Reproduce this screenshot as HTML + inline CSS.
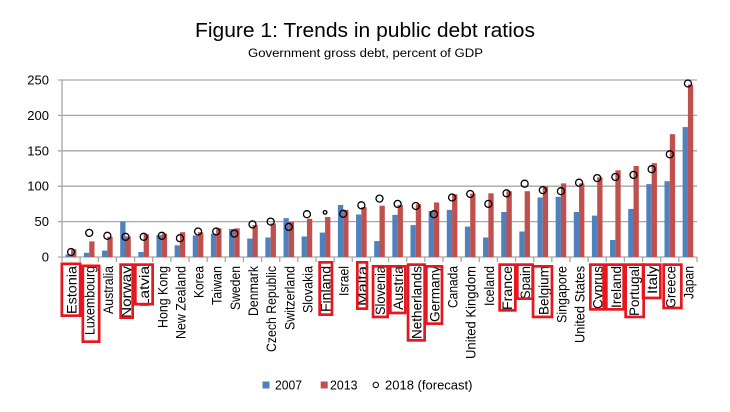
<!DOCTYPE html>
<html><head><meta charset="utf-8"><style>
html,body{margin:0;padding:0;background:#fff;}
svg{display:block;font-family:"Liberation Sans",Arial,sans-serif;}
</style></head><body>
<svg width="730" height="412" viewBox="0 0 730 412" xmlns="http://www.w3.org/2000/svg">
<rect width="730" height="412" fill="#fff"/>
<text x="195" y="37" font-size="20" textLength="340" lengthAdjust="spacingAndGlyphs" fill="#000">Figure 1: Trends in public debt ratios</text>
<text x="248" y="57" font-size="11.5" textLength="235" lengthAdjust="spacingAndGlyphs" fill="#000">Government gross debt, percent of GDP</text>
<g stroke="#a6a6a6" stroke-width="1.3">
<line x1="58" y1="80" x2="697" y2="80"/>
<line x1="58" y1="115.4" x2="697" y2="115.4"/>
<line x1="58" y1="150.8" x2="697" y2="150.8"/>
<line x1="58" y1="186.2" x2="697" y2="186.2"/>
<line x1="58" y1="221.6" x2="697" y2="221.6"/>
<line x1="58" y1="257" x2="697" y2="257"/>
<line x1="62" y1="80" x2="62" y2="257"/>
<path d="M62 257V262M80.14 257V262M98.29 257V262M116.43 257V262M134.57 257V262M152.71 257V262M170.86 257V262M189 257V262M207.14 257V262M225.29 257V262M243.43 257V262M261.57 257V262M279.71 257V262M297.86 257V262M316 257V262M334.14 257V262M352.29 257V262M370.43 257V262M388.57 257V262M406.71 257V262M424.86 257V262M443 257V262M461.14 257V262M479.29 257V262M497.43 257V262M515.57 257V262M533.71 257V262M551.86 257V262M570 257V262M588.14 257V262M606.29 257V262M624.43 257V262M642.57 257V262M660.71 257V262M678.86 257V262M697 257V262" fill="none"/>
</g>
<g font-size="13" text-anchor="end" fill="#000">
<text x="49" y="84.5">250</text>
<text x="49" y="119.9">200</text>
<text x="49" y="155.3">150</text>
<text x="49" y="190.7">100</text>
<text x="49" y="226.1">50</text>
<text x="49" y="261.5">0</text>
</g>
<g fill="#4f81bd">
<rect x="65.77" y="254.4" width="5.3" height="2.6"/>
<rect x="83.91" y="252.8" width="5.3" height="4.2"/>
<rect x="102.06" y="250.6" width="5.3" height="6.4"/>
<rect x="120.2" y="221.6" width="5.3" height="35.4"/>
<rect x="138.34" y="252" width="5.3" height="5"/>
<rect x="156.49" y="235.1" width="5.3" height="21.9"/>
<rect x="174.63" y="245.3" width="5.3" height="11.7"/>
<rect x="192.77" y="235.4" width="5.3" height="21.6"/>
<rect x="210.91" y="233.6" width="5.3" height="23.4"/>
<rect x="229.06" y="229" width="5.3" height="28"/>
<rect x="247.2" y="238.6" width="5.3" height="18.4"/>
<rect x="265.34" y="237.5" width="5.3" height="19.5"/>
<rect x="283.49" y="218.1" width="5.3" height="38.9"/>
<rect x="301.63" y="236.5" width="5.3" height="20.5"/>
<rect x="319.77" y="232.6" width="5.3" height="24.4"/>
<rect x="337.91" y="205" width="5.3" height="52"/>
<rect x="356.06" y="214.5" width="5.3" height="42.5"/>
<rect x="374.2" y="241.1" width="5.3" height="15.9"/>
<rect x="392.34" y="214.9" width="5.3" height="42.1"/>
<rect x="410.49" y="225.1" width="5.3" height="31.9"/>
<rect x="428.63" y="211" width="5.3" height="46"/>
<rect x="446.77" y="209.9" width="5.3" height="47.1"/>
<rect x="464.91" y="226.6" width="5.3" height="30.4"/>
<rect x="483.06" y="237.5" width="5.3" height="19.5"/>
<rect x="501.2" y="212" width="5.3" height="45"/>
<rect x="519.34" y="231.5" width="5.3" height="25.5"/>
<rect x="537.49" y="197.5" width="5.3" height="59.5"/>
<rect x="555.63" y="196.8" width="5.3" height="60.2"/>
<rect x="573.77" y="212" width="5.3" height="45"/>
<rect x="591.91" y="215.6" width="5.3" height="41.4"/>
<rect x="610.06" y="240" width="5.3" height="17"/>
<rect x="628.2" y="208.9" width="5.3" height="48.1"/>
<rect x="646.34" y="184.1" width="5.3" height="72.9"/>
<rect x="664.49" y="181.2" width="5.3" height="75.8"/>
<rect x="682.63" y="127.1" width="5.3" height="129.9"/>
</g>
<g fill="#c0504d">
<rect x="71.07" y="249.2" width="5.3" height="7.8"/>
<rect x="89.21" y="241.4" width="5.3" height="15.6"/>
<rect x="107.36" y="236.8" width="5.3" height="20.2"/>
<rect x="125.5" y="236.5" width="5.3" height="20.5"/>
<rect x="143.64" y="234.3" width="5.3" height="22.7"/>
<rect x="161.79" y="233.6" width="5.3" height="23.4"/>
<rect x="179.93" y="232.2" width="5.3" height="24.8"/>
<rect x="198.07" y="232.2" width="5.3" height="24.8"/>
<rect x="216.21" y="228.3" width="5.3" height="28.7"/>
<rect x="234.36" y="228.3" width="5.3" height="28.7"/>
<rect x="252.5" y="225.1" width="5.3" height="31.9"/>
<rect x="270.64" y="223.4" width="5.3" height="33.6"/>
<rect x="288.79" y="222" width="5.3" height="35"/>
<rect x="306.93" y="218.8" width="5.3" height="38.2"/>
<rect x="325.07" y="217" width="5.3" height="40"/>
<rect x="343.21" y="209.9" width="5.3" height="47.1"/>
<rect x="361.36" y="207.1" width="5.3" height="49.9"/>
<rect x="379.5" y="205.7" width="5.3" height="51.3"/>
<rect x="397.64" y="205" width="5.3" height="52"/>
<rect x="415.79" y="204.3" width="5.3" height="52.7"/>
<rect x="433.93" y="202.5" width="5.3" height="54.5"/>
<rect x="452.07" y="194.3" width="5.3" height="62.7"/>
<rect x="470.21" y="193.6" width="5.3" height="63.4"/>
<rect x="488.36" y="193.3" width="5.3" height="63.7"/>
<rect x="506.5" y="191.2" width="5.3" height="65.8"/>
<rect x="524.64" y="191.2" width="5.3" height="65.8"/>
<rect x="542.79" y="186.6" width="5.3" height="70.4"/>
<rect x="560.93" y="183.4" width="5.3" height="73.6"/>
<rect x="579.07" y="183.4" width="5.3" height="73.6"/>
<rect x="597.21" y="177.3" width="5.3" height="79.7"/>
<rect x="615.36" y="170.3" width="5.3" height="86.7"/>
<rect x="633.5" y="166" width="5.3" height="91"/>
<rect x="651.64" y="163.2" width="5.3" height="93.8"/>
<rect x="669.79" y="134.2" width="5.3" height="122.8"/>
<rect x="687.93" y="84.6" width="5.3" height="172.4"/>
</g>
<g fill="none" stroke="#000" stroke-width="1.3">
<circle cx="71.07" cy="252" r="3.5"/>
<circle cx="89.21" cy="232.9" r="3.5"/>
<circle cx="107.36" cy="235.8" r="3.5"/>
<circle cx="125.5" cy="236.8" r="3.5"/>
<circle cx="143.64" cy="236.8" r="3.5"/>
<circle cx="161.79" cy="235.8" r="3.5"/>
<circle cx="179.93" cy="238.2" r="3.5"/>
<circle cx="198.07" cy="231.5" r="3.5"/>
<circle cx="216.21" cy="231.5" r="3.5"/>
<circle cx="234.36" cy="233.6" r="3.5"/>
<circle cx="252.5" cy="224.4" r="3.5"/>
<circle cx="270.64" cy="221.6" r="3.5"/>
<circle cx="288.79" cy="226.9" r="3.5"/>
<circle cx="306.93" cy="214.2" r="3.5"/>
<circle cx="325.07" cy="212.4" r="1.8"/>
<circle cx="343.21" cy="213.8" r="3.5"/>
<circle cx="361.36" cy="205.3" r="3.5"/>
<circle cx="379.5" cy="198.6" r="3.5"/>
<circle cx="397.64" cy="203.9" r="3.5"/>
<circle cx="415.79" cy="206" r="3.5"/>
<circle cx="433.93" cy="214.2" r="3.5"/>
<circle cx="452.07" cy="197.5" r="3.5"/>
<circle cx="470.21" cy="194" r="3.5"/>
<circle cx="488.36" cy="203.9" r="3.5"/>
<circle cx="506.5" cy="193.3" r="3.5"/>
<circle cx="524.64" cy="183.7" r="3.5"/>
<circle cx="542.79" cy="190.1" r="3.5"/>
<circle cx="560.93" cy="191.2" r="3.5"/>
<circle cx="579.07" cy="182.7" r="3.5"/>
<circle cx="597.21" cy="178.1" r="3.5"/>
<circle cx="615.36" cy="177" r="3.5"/>
<circle cx="633.5" cy="174.9" r="3.5"/>
<circle cx="651.64" cy="169.2" r="3.5"/>
<circle cx="669.79" cy="154.3" r="3.5"/>
<circle cx="687.93" cy="83.5" r="3.5"/>
</g>
<g font-size="14" text-anchor="end" fill="#000">
<text x="76.57" y="266" transform="rotate(-90 76.57 266)" textLength="48" lengthAdjust="spacingAndGlyphs">Estonia</text>
<text x="94.71" y="266" transform="rotate(-90 94.71 266)" textLength="69" lengthAdjust="spacingAndGlyphs">Luxembourg</text>
<text x="112.86" y="266" transform="rotate(-90 112.86 266)" textLength="48" lengthAdjust="spacingAndGlyphs">Australia</text>
<text x="131" y="266" transform="rotate(-90 131 266)" textLength="52" lengthAdjust="spacingAndGlyphs">Norway</text>
<text x="149.14" y="266" transform="rotate(-90 149.14 266)" textLength="41" lengthAdjust="spacingAndGlyphs">Latvia</text>
<text x="167.29" y="266" transform="rotate(-90 167.29 266)" textLength="62" lengthAdjust="spacingAndGlyphs">Hong Kong</text>
<text x="185.43" y="266" transform="rotate(-90 185.43 266)" textLength="73" lengthAdjust="spacingAndGlyphs">New Zealand</text>
<text x="203.57" y="266" transform="rotate(-90 203.57 266)" textLength="32" lengthAdjust="spacingAndGlyphs">Korea</text>
<text x="221.71" y="266" transform="rotate(-90 221.71 266)" textLength="39" lengthAdjust="spacingAndGlyphs">Taiwan</text>
<text x="239.86" y="266" transform="rotate(-90 239.86 266)" textLength="44" lengthAdjust="spacingAndGlyphs">Sweden</text>
<text x="258" y="266" transform="rotate(-90 258 266)" textLength="50" lengthAdjust="spacingAndGlyphs">Denmark</text>
<text x="276.14" y="266" transform="rotate(-90 276.14 266)" textLength="86" lengthAdjust="spacingAndGlyphs">Czech Republic</text>
<text x="294.29" y="266" transform="rotate(-90 294.29 266)" textLength="64" lengthAdjust="spacingAndGlyphs">Switzerland</text>
<text x="312.43" y="266" transform="rotate(-90 312.43 266)" textLength="47" lengthAdjust="spacingAndGlyphs">Slovakia</text>
<text x="330.57" y="266" transform="rotate(-90 330.57 266)" textLength="46" lengthAdjust="spacingAndGlyphs">Finland</text>
<text x="348.71" y="266" transform="rotate(-90 348.71 266)" textLength="30" lengthAdjust="spacingAndGlyphs">Israel</text>
<text x="366.86" y="266" transform="rotate(-90 366.86 266)" textLength="40" lengthAdjust="spacingAndGlyphs">Malta</text>
<text x="385" y="266" transform="rotate(-90 385 266)" textLength="49" lengthAdjust="spacingAndGlyphs">Slovenia</text>
<text x="403.14" y="266" transform="rotate(-90 403.14 266)" textLength="44" lengthAdjust="spacingAndGlyphs">Austria</text>
<text x="421.29" y="266" transform="rotate(-90 421.29 266)" textLength="73" lengthAdjust="spacingAndGlyphs">Netherlands</text>
<text x="439.43" y="266" transform="rotate(-90 439.43 266)" textLength="56" lengthAdjust="spacingAndGlyphs">Germany</text>
<text x="457.57" y="266" transform="rotate(-90 457.57 266)" textLength="42" lengthAdjust="spacingAndGlyphs">Canada</text>
<text x="475.71" y="266" transform="rotate(-90 475.71 266)" textLength="93" lengthAdjust="spacingAndGlyphs">United Kingdom</text>
<text x="493.86" y="266" transform="rotate(-90 493.86 266)" textLength="40" lengthAdjust="spacingAndGlyphs">Iceland</text>
<text x="512" y="266" transform="rotate(-90 512 266)" textLength="44" lengthAdjust="spacingAndGlyphs">France</text>
<text x="530.14" y="266" transform="rotate(-90 530.14 266)" textLength="33" lengthAdjust="spacingAndGlyphs">Spain</text>
<text x="548.29" y="266" transform="rotate(-90 548.29 266)" textLength="49" lengthAdjust="spacingAndGlyphs">Belgium</text>
<text x="566.43" y="266" transform="rotate(-90 566.43 266)" textLength="57" lengthAdjust="spacingAndGlyphs">Singapore</text>
<text x="584.57" y="266" transform="rotate(-90 584.57 266)" textLength="77" lengthAdjust="spacingAndGlyphs">United States</text>
<text x="602.71" y="266" transform="rotate(-90 602.71 266)" textLength="43" lengthAdjust="spacingAndGlyphs">Cyprus</text>
<text x="620.86" y="266" transform="rotate(-90 620.86 266)" textLength="42" lengthAdjust="spacingAndGlyphs">Ireland</text>
<text x="639" y="266" transform="rotate(-90 639 266)" textLength="50" lengthAdjust="spacingAndGlyphs">Portugal</text>
<text x="657.14" y="266" transform="rotate(-90 657.14 266)" textLength="28" lengthAdjust="spacingAndGlyphs">Italy</text>
<text x="675.29" y="266" transform="rotate(-90 675.29 266)" textLength="42" lengthAdjust="spacingAndGlyphs">Greece</text>
<text x="693.43" y="266" transform="rotate(-90 693.43 266)" textLength="33" lengthAdjust="spacingAndGlyphs">Japan</text>
</g>
<g fill="none" stroke="#e8161e" stroke-width="2.7">
<rect x="61.85" y="263.85" width="18.3" height="51.8"/>
<rect x="82.85" y="265.85" width="16.3" height="75.8"/>
<rect x="120.65" y="264.65" width="12" height="53"/>
<rect x="135.35" y="264.65" width="17.3" height="39.5"/>
<rect x="319.65" y="262.35" width="12.3" height="52.3"/>
<rect x="357.35" y="262.35" width="9.6" height="46.3"/>
<rect x="373.05" y="266.35" width="14.6" height="50.6"/>
<rect x="390.35" y="266.35" width="15" height="46.6"/>
<rect x="408.05" y="264.65" width="16.6" height="75.7"/>
<rect x="426.35" y="266.35" width="15.6" height="57.3"/>
<rect x="499.65" y="264.65" width="15.7" height="45.7"/>
<rect x="517.35" y="264.65" width="15.3" height="34"/>
<rect x="533.05" y="266.35" width="18.9" height="50.6"/>
<rect x="590.35" y="264.65" width="13.3" height="44.7"/>
<rect x="606.35" y="264.65" width="17.3" height="44.7"/>
<rect x="625.65" y="264.65" width="18" height="52.3"/>
<rect x="643.05" y="264.65" width="17.3" height="33.3"/>
<rect x="663.65" y="264.65" width="17.7" height="43.3"/>
</g>
<rect x="262.5" y="381.5" width="7" height="7" fill="#4f81bd"/>
<text x="275" y="389.5" font-size="12.5" textLength="27" lengthAdjust="spacingAndGlyphs" fill="#000">2007</text>
<rect x="320.7" y="381.5" width="7" height="7" fill="#c0504d"/>
<text x="330" y="389.5" font-size="12.5" textLength="27.5" lengthAdjust="spacingAndGlyphs" fill="#000">2013</text>
<circle cx="375.8" cy="385" r="2.7" fill="none" stroke="#000" stroke-width="1"/>
<text x="385" y="389.5" font-size="12.5" textLength="87.5" lengthAdjust="spacingAndGlyphs" fill="#000">2018 (forecast)</text>
</svg>
</body></html>
